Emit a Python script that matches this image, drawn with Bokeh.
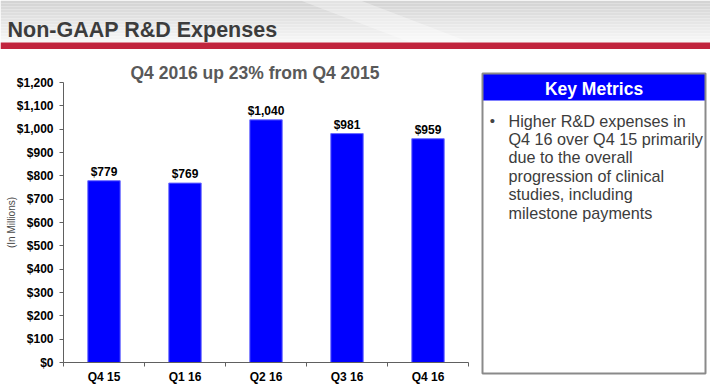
import math
from bokeh.plotting import figure
from bokeh.layouts import column, row
from bokeh.models import Range1d, FixedTicker, NumeralTickFormatter, Label, ColumnDataSource
from bokeh.core.properties import value
from bokeh.embed import file_html
from bokeh.resources import INLINE

# ---------------- data ----------------
quarters = ["Q4 15", "Q1 16", "Q2 16", "Q3 16", "Q4 16"]
expenses = [779, 769, 1040, 981, 959]          # $ millions
y_ticks = [0, 100, 200, 300, 400, 500, 600, 700, 800, 900, 1000, 1100, 1200]
slide_title = "Non-GAAP R&D Expenses"
chart_title = "Q4 2016 up 23% from Q4 2015"
y_axis_title = "(In Millions)"
box_title = "Key Metrics"
bullet_lines = [
    "Higher R&D expenses in",
    "Q4 16 over Q4 15 primarily",
    "due to the overall",
    "progression of clinical",
    "studies, including",
    "milestone payments",
]

FONT = "Liberation Sans"

# ---------------- header strip ----------------
hdr = figure(width=710, height=49, x_range=Range1d(0, 710), y_range=Range1d(49, 0),
             toolbar_location=None, output_backend="svg", min_border=0,
             x_axis_type=None, y_axis_type=None)
hdr.grid.visible = False
hdr.outline_line_color = None
n = 14
for i in range(n):
    t = i / (n - 1)
    c = int(212 + (247 - 212) * t)
    hdr.quad(left=0, right=710, top=i * 42 / n, bottom=(i + 1) * 42 / n,
             fill_color=(c, c, c), line_color=None)
hdr.patch(x=[300, 360, 470, 410], y=[0, 0, 42, 42], fill_color="white", fill_alpha=0.35, line_color=None)
hdr.quad(left=0, right=710, top=42, bottom=49, fill_color="#c1243d", line_color=None)
hdr.add_layout(Label(x=7, y=29.5, text=slide_title, text_font=FONT,
                     text_font_size="21.5px", text_font_style="bold", text_color="#3c3c3c",
                     text_baseline="alphabetic", text_align="left"))

# ---------------- bar chart ----------------
pos = list(range(len(quarters)))
src = ColumnDataSource(dict(x=pos, top=expenses,
                            lab=["${:,}".format(v) for v in expenses]))
p = figure(width=480, height=339, x_range=Range1d(-0.5, len(quarters) - 0.5),
           y_range=Range1d(0, 1200), toolbar_location=None, output_backend="svg",
           min_border_left=63, min_border_right=12, min_border_top=33, min_border_bottom=26)
p.grid.visible = False
p.outline_line_color = None
p.background_fill_color = "white"
p.border_fill_color = "white"

p.title.text = chart_title
p.title.text_font = FONT
p.title.text_font_size = "17.5px"
p.title.text_font_style = "bold"
p.title.text_color = "#595959"
p.title.align = "left"
p.title.offset = 67
p.title.standoff = 0

p.vbar(x="x", top="top", width=0.4, source=src, fill_color="#0000ff",
       line_color="#6a6aff", line_width=1)
p.text(x="x", y="top", text="lab", source=src, text_align="center",
       text_baseline="alphabetic", y_offset=-9, text_font=value(FONT),
       text_font_size="12px", text_font_style="bold", text_color="black")

AX = "#606060"
ya = p.yaxis[0]
ya.ticker = FixedTicker(ticks=y_ticks)
ya.formatter = NumeralTickFormatter(format="$0,0")
ya.major_label_text_font = FONT
ya.major_label_text_font_size = "12px"
ya.major_label_text_font_style = "bold"
ya.major_label_text_color = "black"
ya.major_tick_out = 4
ya.major_tick_in = 0
ya.minor_tick_line_color = None
ya.major_label_standoff = 6
ya.axis_line_color = AX
ya.major_tick_line_color = AX
ya.axis_label = y_axis_title
ya.axis_label_text_font = FONT
ya.axis_label_text_font_size = "10px"
ya.axis_label_text_font_style = "normal"
ya.axis_label_text_color = "#4a4a4a"
ya.axis_label_standoff = -3

xa = p.xaxis[0]
xa.ticker = FixedTicker(ticks=pos, minor_ticks=[i - 0.5 for i in range(len(quarters) + 1)])
xa.major_label_overrides = {i: q for i, q in zip(pos, quarters)}
xa.major_label_text_font = FONT
xa.major_label_text_font_size = "12px"
xa.major_label_text_font_style = "bold"
xa.major_label_text_color = "black"
xa.major_tick_out = 0
xa.major_tick_in = 0
xa.major_tick_line_color = None
xa.minor_tick_out = 4
xa.minor_tick_in = 0
xa.minor_tick_line_color = AX
xa.major_label_standoff = 3
xa.axis_line_color = AX

# ---------------- key metrics box ----------------
bx = figure(width=230, height=339, x_range=Range1d(480, 710), y_range=Range1d(388, 49),
            toolbar_location=None, output_backend="svg", min_border=0,
            x_axis_type=None, y_axis_type=None)
bx.grid.visible = False
bx.outline_line_color = None
bx.quad(left=482, right=705, top=73, bottom=100, fill_color="#0000ff", line_color=None)
bx.quad(left=482, right=705, top=73, bottom=373, fill_color=None, line_color="#8a8a8a", line_width=2)
bx.add_layout(Label(x=593.5, y=88, text=box_title, text_font=FONT, text_font_size="17.5px",
                    text_font_style="bold", text_color="white", text_align="center",
                    text_baseline="middle"))
bx.add_layout(Label(x=492, y=120, text="\u2022", text_font=FONT, text_font_size="15px",
                    text_color="#444444", text_align="center", text_baseline="middle"))
bsrc = ColumnDataSource(dict(x=[508] * len(bullet_lines),
                             y=[120 + 18.4 * i for i in range(len(bullet_lines))],
                             t=bullet_lines))
bx.text(x="x", y="y", text="t", source=bsrc, text_font=value(FONT), text_font_size="16.2px",
        text_color="#3c3c3c", text_align="left", text_baseline="middle")

layout = column(hdr, row(p, column(bx, spacing=0), spacing=0), spacing=0)
open("out.html", "w").write(file_html(layout, INLINE))
